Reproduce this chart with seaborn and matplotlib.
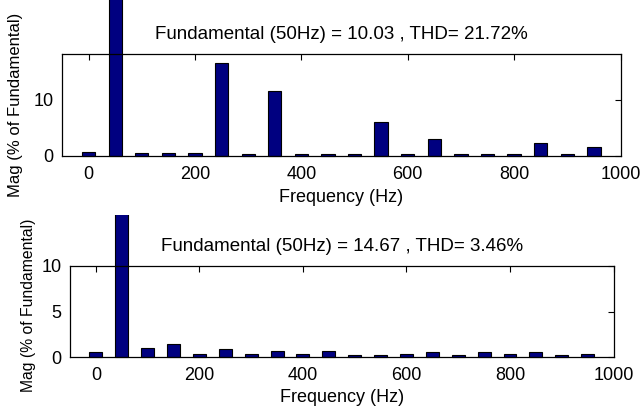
import matplotlib
matplotlib.use("Agg")
import matplotlib.pyplot as plt
from matplotlib.transforms import Bbox, TransformedBbox
import seaborn as sns
import pandas as pd

# ---- data ----
freqs = [0, 50, 100, 150, 200, 250, 300, 350, 400, 450,
         500, 550, 600, 650, 700, 750, 800, 850, 900, 950]
mag_top = [0.65, 100, 0.6, 0.6, 0.6, 16.55, 0.3, 11.66, 0.3, 0.3,
           0.3, 6.07, 0.3, 3.1, 0.3, 0.3, 0.3, 2.26, 0.3, 1.67]
mag_bottom = [0.58, 100, 0.95, 1.39, 0.33, 0.92, 0.35, 0.7, 0.33, 0.66,
              0.18, 0.18, 0.33, 0.5, 0.18, 0.5, 0.33, 0.5, 0.18, 0.33]
title_top = "Fundamental (50Hz) = 10.03 , THD= 21.72%"
title_bottom = "Fundamental (50Hz) = 14.67 , THD= 3.46%"
xlabel = "Frequency (Hz)"
ylabel = "Mag (% of Fundamental)"
xticks = [0, 200, 400, 600, 800, 1000]
yticks_top = [0, 10]
yticks_bottom = [0, 5, 10]

sns.set_style("white")
plt.rcParams['font.family'] = ['Liberation Sans', 'DejaVu Sans']
plt.rcParams['text.color'] = 'black'
plt.rcParams['axes.labelcolor'] = 'black'

W, H = 640, 409
fig = plt.figure(figsize=(W / 100, H / 100), dpi=100)

def px_axes(left, top, right, bottom):
    return fig.add_axes([left / W, 1 - bottom / H, (right - left) / W, (bottom - top) / H])

ax1 = px_axes(62, 54, 620.5, 156)
ax2 = px_axes(70, 266, 613.5, 357)

navy = "#000080"

def draw(ax, mags, ylim, yticks, title, title_y, xlab_y, ylab_x, ylab_y, ylab_size, clip_top_px):
    df = pd.DataFrame({"freq": freqs, "mag": mags})
    sns.barplot(data=df, x="freq", y="mag", native_scale=True, width=0.5,
                color=navy, saturation=1, edgecolor="black", linewidth=0.8,
                errorbar=None, ax=ax)
    clipbox = TransformedBbox(Bbox([[0, 0], [1, 1 - clip_top_px / H]]), fig.transFigure)
    for p in ax.patches:
        p.set_clip_box(clipbox)
    ax.set_xlim(-50, 1000)
    ax.set_ylim(*ylim)
    ax.set_xticks(xticks)
    ax.set_xticklabels([str(t) for t in xticks])
    ax.set_yticks(yticks)
    ax.set_yticklabels([str(t) for t in yticks])
    ax.tick_params(direction="in", length=4, width=0.8, top=True, right=True,
                   labelsize=13, colors="black", pad=7)
    ax.tick_params(axis="y", pad=6)
    for s in ax.spines.values():
        s.set_visible(True)
        s.set_color("black")
        s.set_linewidth(0.9)
    ax.set_xlabel(xlabel, fontsize=13, va="center", color="black")
    ax.xaxis.set_label_coords(0.5, xlab_y)
    ax.set_ylabel(ylabel, fontsize=ylab_size, va="center", color="black")
    ax.yaxis.set_label_coords(ylab_x, ylab_y)
    ax.text(0.5, title_y, title, transform=ax.transAxes, ha="center", va="center",
            fontsize=13.5, color="black")
    ax.set_facecolor("white")

draw(ax1, mag_top, (0, 18.2), yticks_top, title_top, 1.196, -0.402, -0.0824, 0.5, 12, 0)
draw(ax2, mag_bottom, (0, 10), yticks_bottom, title_bottom, 1.209, -0.44, -0.0755, 0.571, 11.3, 215)

fig.savefig("out.png", dpi=100, facecolor="white")
